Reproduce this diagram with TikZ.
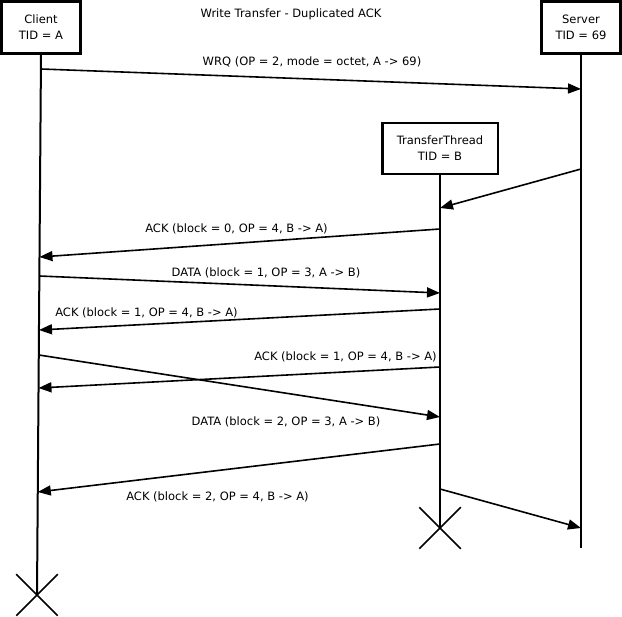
\documentclass[tikz,border=0pt]{standalone}
\usepackage{fontspec}
\setmainfont{DejaVu Sans}
\usetikzlibrary{arrows.meta,shapes.misc}

\begin{document}
\begin{tikzpicture}[x=1pt,y=-1pt,
  every node/.style={font=\fontsize{11.5}{16}\selectfont},
  actor/.style={draw,line width=2.5pt,align=center,inner sep=0pt},
  msg/.style={line width=1.6pt,-{Triangle[length=13pt,width=10pt]}},
  life/.style={line width=2pt},
  stopx/.style={draw,cross out,line width=1.5pt,minimum size=40pt,inner sep=0pt}]
\useasboundingbox (0,0) rectangle (622,617);
% actors
\node[actor,minimum width=79pt,minimum height=52pt] (client) at (41,27.5) {Client\\TID = A};
\node[actor,minimum width=79pt,minimum height=52pt] (server) at (581,27.5) {Server\\TID = 69};
\node[actor,minimum width=115.5pt,minimum height=51pt] (thread) at (440,148.5) {TransferThread\\TID = B};
\node (title) at (291,14) {Write Transfer - Duplicated ACK};
% lifelines
\node[stopx] (clientx) at (37,595) {};
\node[stopx] (threadx) at (440,528) {};
\coordinate (serverend) at (581,548);
\draw[life] (client.south) -- (clientx.center);
\draw[life] (thread.south) -- (threadx.center);
\draw[life] (server.south) -- (serverend);
% message ends
\coordinate (c1) at (41,69);   \coordinate (s1) at (581,89);
\coordinate (s2) at (581,169); \coordinate (t2) at (440,208);
\coordinate (t3) at (440,229); \coordinate (c3) at (39.5,257);
\coordinate (c4) at (39.4,276); \coordinate (t4) at (440,293);
\coordinate (t5) at (440,309); \coordinate (c5) at (39,330);
\coordinate (c6) at (38.8,355); \coordinate (t6) at (440,417);
\coordinate (t7) at (440,367); \coordinate (c7) at (38.5,388);
\coordinate (t8) at (440,444); \coordinate (c8) at (37.8,492);
\coordinate (t9) at (440,489); \coordinate (s9) at (581,528);
% messages
\draw[msg] (c1) -- (s1);
\draw[msg] (s2) -- (t2);
\draw[msg] (t3) -- (c3);
\draw[msg] (c4) -- (t4);
\draw[msg] (t5) -- (c5);
\draw[msg] (c6) -- (t6);
\draw[msg] (t7) -- (c7);
\draw[msg] (t8) -- (c8);
\draw[msg] (t9) -- (s9);
% labels
\node (wrq) at (312,62) {WRQ (OP = 2, mode = octet, A -> 69)};
\node (ack0) at (236.5,229) {ACK (block = 0, OP = 4, B -> A)};
\node (data1) at (266,273) {DATA (block = 1, OP = 3, A -> B)};
\node (ack1) at (146.5,313) {ACK (block = 1, OP = 4, B -> A)};
\node (ack1b) at (345.5,357) {ACK (block = 1, OP = 4, B -> A)};
\node (data2) at (286,422) {DATA (block = 2, OP = 3, A -> B)};
\node (ack2) at (217.5,497) {ACK (block = 2, OP = 4, B -> A)};
\end{tikzpicture}
\end{document}
